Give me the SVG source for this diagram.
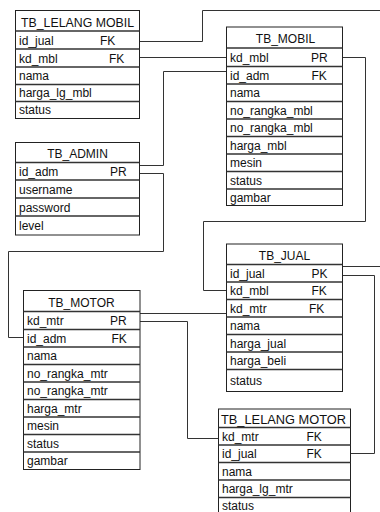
<svg xmlns="http://www.w3.org/2000/svg" width="380" height="512" viewBox="0 0 380 512">
<style>
.box{fill:#fff;stroke:#222;stroke-width:1}
.sep{stroke:#333;stroke-width:1.4}
.h{font-family:"Liberation Sans",Arial,sans-serif;font-size:12px;fill:#111;text-anchor:middle}
.t{font-family:"Liberation Sans",Arial,sans-serif;font-size:12px;fill:#111}
.c{fill:none;stroke:#333;stroke-width:1}
</style>
<rect width="380" height="512" fill="#fff"/>
<g id="connectors">
<path class="c" d="M139.5,41.5 H202.5 V10.5 H382 V266.5 H342.5"/>
<path class="c" d="M139.5,57.5 H226.5"/>
<path class="c" d="M139.5,165.5 H163.5 V71.5 H226.5"/>
<path class="c" d="M139.5,173.5 H163.5 V251.5 H8.5 V337.5 H23.5"/>
<path class="c" d="M342.5,57.5 H365.5 V221.5 H203.5 V290.5 H226.5"/>
<path class="c" d="M140,313.5 H226.5"/>
<path class="c" d="M140,321.5 H187.5 V438.5 H218.5"/>
<path class="c" d="M342.5,275.5 H374.5 V453.5 H350.5"/>
</g>
<g id="tb_lelang_mobil">
<rect class="box" x="15.5" y="10.5" width="124" height="108"/>
<line class="sep" x1="15.5" x2="139.5" y1="31" y2="31"/>
<line class="sep" x1="15.5" x2="139.5" y1="49" y2="49"/>
<line class="sep" x1="15.5" x2="139.5" y1="67" y2="67"/>
<line class="sep" x1="15.5" x2="139.5" y1="84.5" y2="84.5"/>
<line class="sep" x1="15.5" x2="139.5" y1="101.5" y2="101.5"/>
<text class="h" x="77.5" y="26.5" textLength="113" lengthAdjust="spacingAndGlyphs">TB_LELANG MOBIL</text>
<text class="t" x="19" y="44.5">id_jual</text><text class="t" x="100" y="44.5">FK</text>
<text class="t" x="19" y="62.5">kd_mbl</text><text class="t" x="109" y="62.5">FK</text>
<text class="t" x="19" y="80">nama</text>
<text class="t" x="19" y="97">harga_lg_mbl</text>
<text class="t" x="19" y="114">status</text>
</g>
<g id="tb_mobil">
<rect class="box" x="226.5" y="27" width="116" height="178.5"/>
<line class="sep" x1="226.5" x2="342.5" y1="48" y2="48"/>
<line class="sep" x1="226.5" x2="342.5" y1="66.5" y2="66.5"/>
<line class="sep" x1="226.5" x2="342.5" y1="84" y2="84"/>
<line class="sep" x1="226.5" x2="342.5" y1="101.5" y2="101.5"/>
<line class="sep" x1="226.5" x2="342.5" y1="119" y2="119"/>
<line class="sep" x1="226.5" x2="342.5" y1="136.5" y2="136.5"/>
<line class="sep" x1="226.5" x2="342.5" y1="154" y2="154"/>
<line class="sep" x1="226.5" x2="342.5" y1="171.5" y2="171.5"/>
<line class="sep" x1="226.5" x2="342.5" y1="189" y2="189"/>
<text class="h" x="285.5" y="43">TB_MOBIL</text>
<text class="t" x="230" y="62">kd_mbl</text><text class="t" x="311" y="62">PR</text>
<text class="t" x="230" y="79.5">id_adm</text><text class="t" x="311.5" y="79.5">FK</text>
<text class="t" x="230" y="97">nama</text>
<text class="t" x="230" y="114.5">no_rangka_mbl</text>
<text class="t" x="230" y="132">no_rangka_mbl</text>
<text class="t" x="230" y="149.5">harga_mbl</text>
<text class="t" x="230" y="167">mesin</text>
<text class="t" x="230" y="184.5">status</text>
<text class="t" x="230" y="201.5">gambar</text>
</g>
<g id="tb_admin">
<rect class="box" x="15.5" y="142.5" width="124" height="92.5"/>
<line class="sep" x1="15.5" x2="139.5" y1="162.5" y2="162.5"/>
<line class="sep" x1="15.5" x2="139.5" y1="180" y2="180"/>
<line class="sep" x1="15.5" x2="139.5" y1="198" y2="198"/>
<line class="sep" x1="15.5" x2="139.5" y1="216" y2="216"/>
<text class="h" x="77.5" y="158">TB_ADMIN</text>
<text class="t" x="19" y="175.5">id_adm</text><text class="t" x="110" y="175.5">PR</text>
<text class="t" x="19" y="193.5">username</text>
<text class="t" x="19" y="211.5">password</text>
<text class="t" x="19" y="230">level</text>
</g>
<g id="tb_jual">
<rect class="box" x="226.5" y="244" width="116" height="147.5"/>
<line class="sep" x1="226.5" x2="342.5" y1="264.5" y2="264.5"/>
<line class="sep" x1="226.5" x2="342.5" y1="282" y2="282"/>
<line class="sep" x1="226.5" x2="342.5" y1="299.5" y2="299.5"/>
<line class="sep" x1="226.5" x2="342.5" y1="317" y2="317"/>
<line class="sep" x1="226.5" x2="342.5" y1="334.5" y2="334.5"/>
<line class="sep" x1="226.5" x2="342.5" y1="352" y2="352"/>
<line class="sep" x1="226.5" x2="342.5" y1="369.5" y2="369.5"/>
<text class="h" x="284.5" y="260">TB_JUAL</text>
<text class="t" x="230" y="277.5">id_jual</text><text class="t" x="311.5" y="277.5">PK</text>
<text class="t" x="230" y="295">kd_mbl</text><text class="t" x="311.5" y="295">FK</text>
<text class="t" x="230" y="312.5">kd_mtr</text><text class="t" x="309" y="312.5">FK</text>
<text class="t" x="230" y="330">nama</text>
<text class="t" x="230" y="347.5">harga_jual</text>
<text class="t" x="230" y="365">harga_beli</text>
<text class="t" x="230" y="385">status</text>
</g>
<g id="tb_motor">
<rect class="box" x="23.5" y="290.5" width="116.5" height="179"/>
<line class="sep" x1="23.5" x2="140" y1="311.5" y2="311.5"/>
<line class="sep" x1="23.5" x2="140" y1="329.5" y2="329.5"/>
<line class="sep" x1="23.5" x2="140" y1="347" y2="347"/>
<line class="sep" x1="23.5" x2="140" y1="364.5" y2="364.5"/>
<line class="sep" x1="23.5" x2="140" y1="382" y2="382"/>
<line class="sep" x1="23.5" x2="140" y1="399.5" y2="399.5"/>
<line class="sep" x1="23.5" x2="140" y1="417" y2="417"/>
<line class="sep" x1="23.5" x2="140" y1="434.5" y2="434.5"/>
<line class="sep" x1="23.5" x2="140" y1="452" y2="452"/>
<text class="h" x="81.5" y="307">TB_MOTOR</text>
<text class="t" x="27" y="325">kd_mtr</text><text class="t" x="110" y="325">PR</text>
<text class="t" x="27" y="342.5">id_adm</text><text class="t" x="111.5" y="342.5">FK</text>
<text class="t" x="27" y="360">nama</text>
<text class="t" x="27" y="377.5">no_rangka_mtr</text>
<text class="t" x="27" y="395">no_rangka_mtr</text>
<text class="t" x="27" y="412.5">harga_mtr</text>
<text class="t" x="27" y="430">mesin</text>
<text class="t" x="27" y="447.5">status</text>
<text class="t" x="27" y="465">gambar</text>
</g>
<g id="tb_lelang_motor">
<rect class="box" x="218.5" y="409" width="132" height="106"/>
<line class="sep" x1="218.5" x2="350.5" y1="427.5" y2="427.5"/>
<line class="sep" x1="218.5" x2="350.5" y1="445" y2="445"/>
<line class="sep" x1="218.5" x2="350.5" y1="462.5" y2="462.5"/>
<line class="sep" x1="218.5" x2="350.5" y1="480" y2="480"/>
<line class="sep" x1="218.5" x2="350.5" y1="497.5" y2="497.5"/>
<text class="h" x="283.5" y="423.5" textLength="125" lengthAdjust="spacingAndGlyphs">TB_LELANG MOTOR</text>
<text class="t" x="222" y="440.5">kd_mtr</text><text class="t" x="306.5" y="440.5">FK</text>
<text class="t" x="222" y="458">id_jual</text><text class="t" x="306.5" y="458">FK</text>
<text class="t" x="222" y="475.5">nama</text>
<text class="t" x="222" y="493">harga_lg_mtr</text>
<text class="t" x="222" y="510">status</text>
</g>
</svg>
